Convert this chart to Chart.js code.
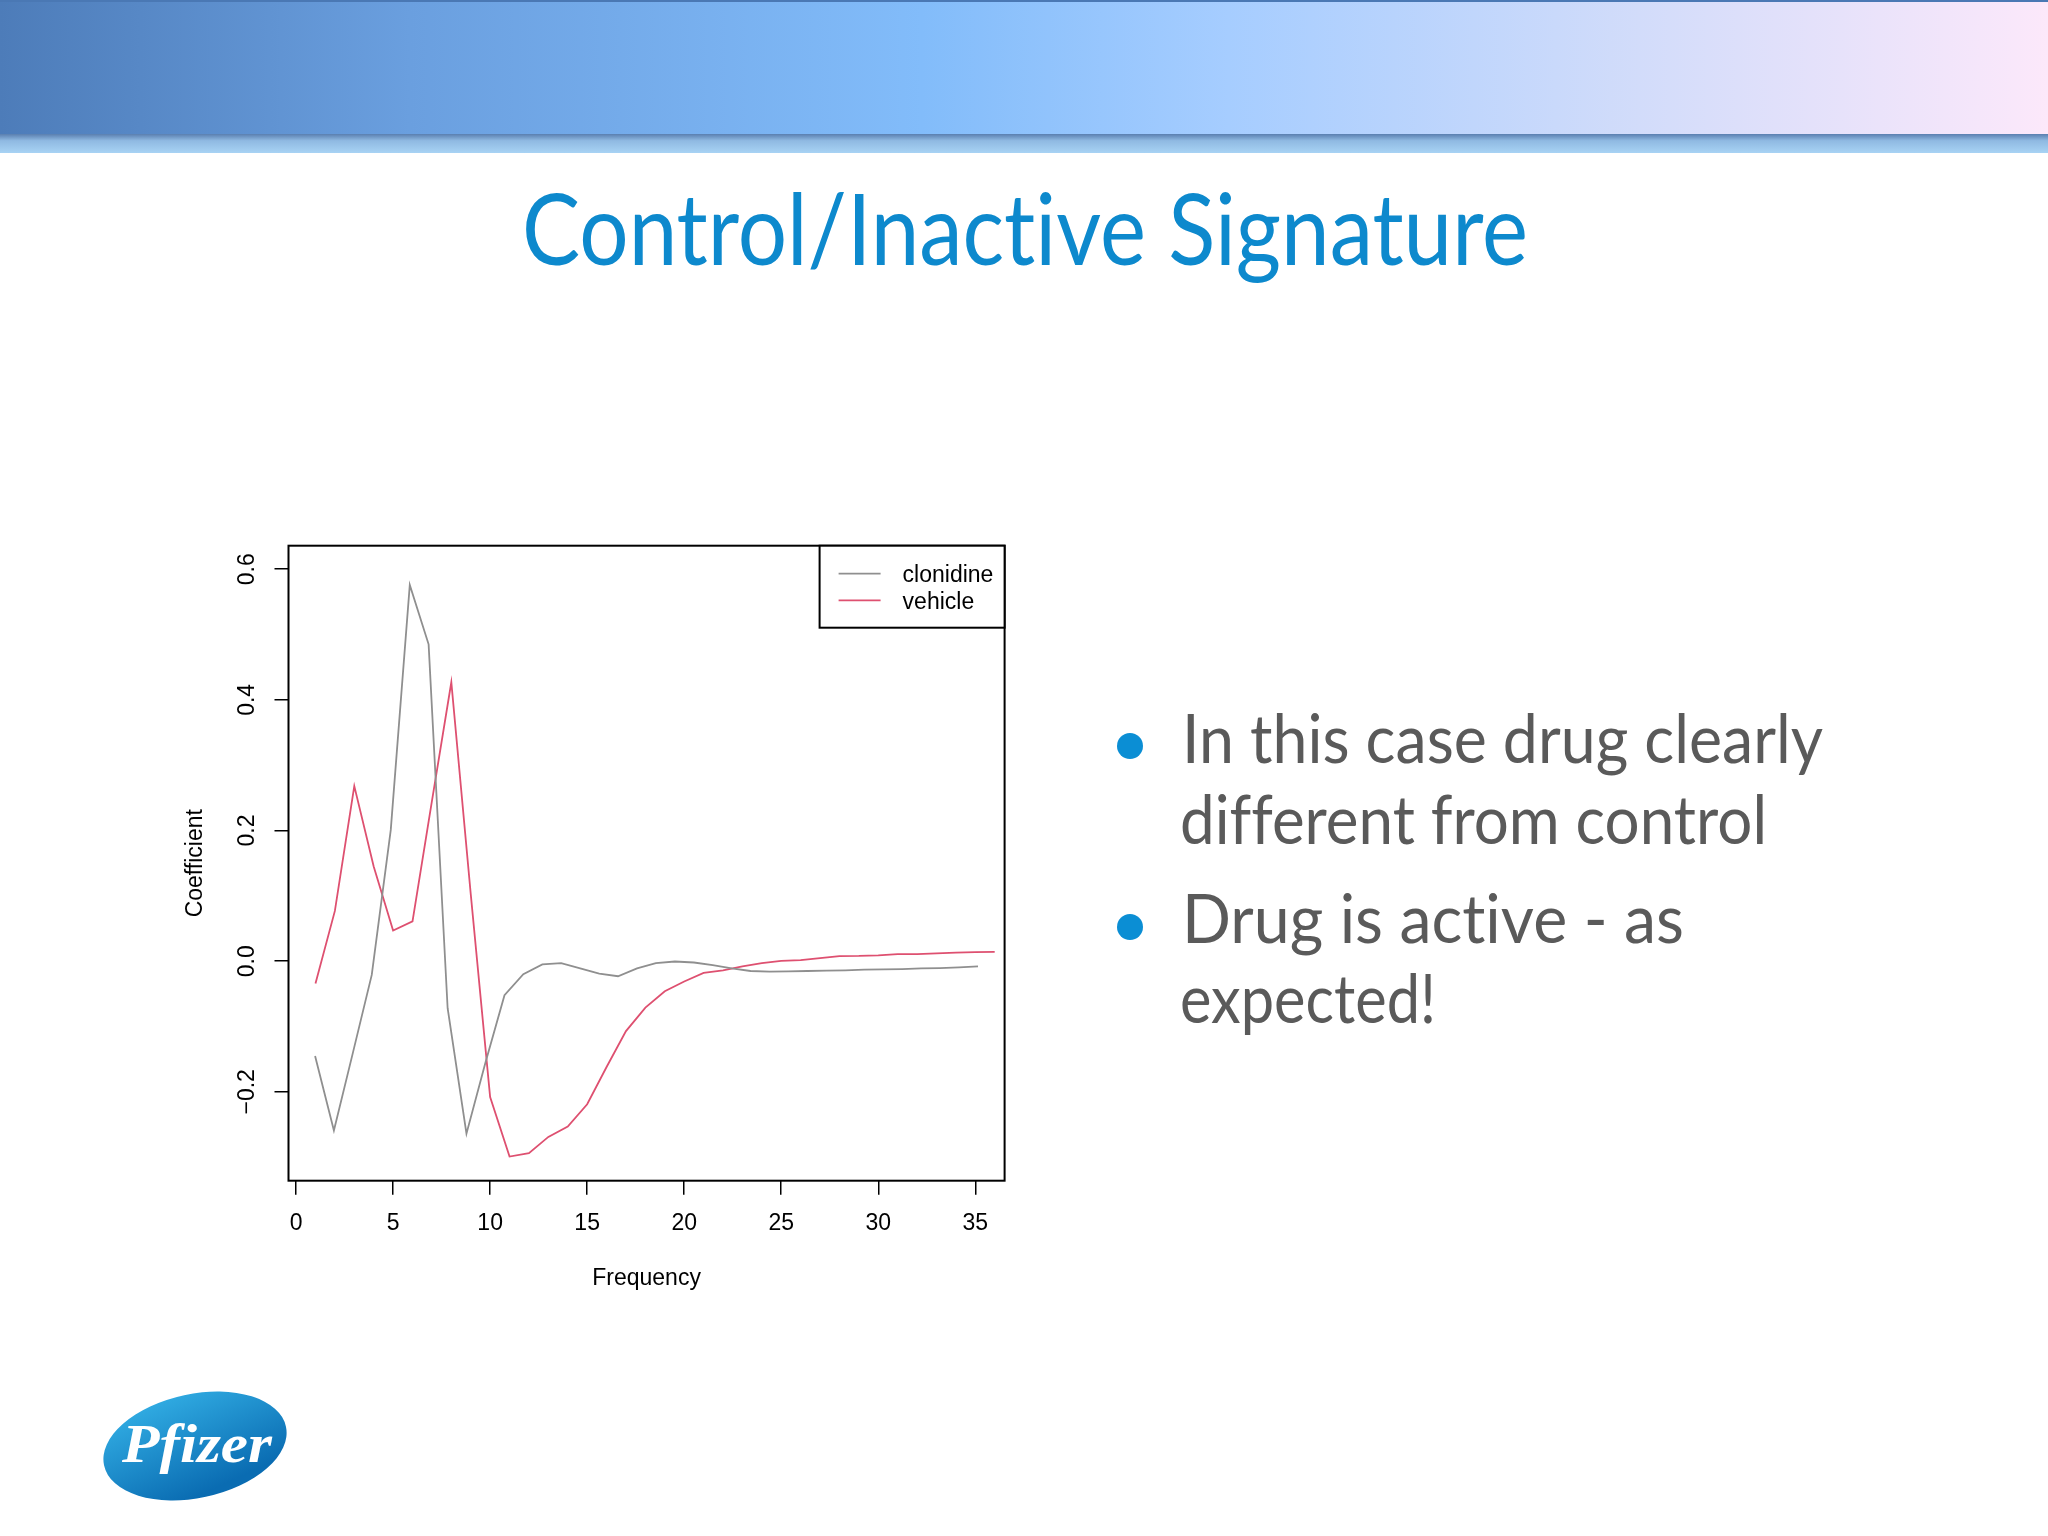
<!DOCTYPE html>
<html>

<head>
    <title>Control/Inactive Signature</title>
    <script src="https://cdn.jsdelivr.net/npm/chart.js"></script>
    <style>
        body { margin: 0; width: 2048px; height: 1536px; background: #ffffff; overflow: hidden; position: relative; }
        #deco { position: absolute; left: 0; top: 0; font-variant-ligatures: none; }
        #grafica { position: absolute; left: 150px; top: 520px; }
    </style>
</head>

<body>
    <svg id="deco" width="2048" height="1536" xmlns="http://www.w3.org/2000/svg">
        <defs>
            <linearGradient id="banda" x1="0" y1="0" x2="1" y2="0">
                <stop offset="0" stop-color="#4d7cb9" />
                <stop offset="0.2" stop-color="#6a9fdf" />
                <stop offset="0.45" stop-color="#82bcfa" />
                <stop offset="0.6" stop-color="#a6cdff" />
                <stop offset="0.8" stop-color="#d2dcfa" />
                <stop offset="1" stop-color="#fce8fa" />
            </linearGradient>
            <linearGradient id="sombra" x1="0" y1="0" x2="0" y2="1">
                <stop offset="0" stop-color="#5a7fb0" />
                <stop offset="0.35" stop-color="#8fb9e2" />
                <stop offset="1" stop-color="#a8d3f4" />
            </linearGradient>
            <linearGradient id="logo" x1="0" y1="0" x2="0.4" y2="1">
                <stop offset="0" stop-color="#35b3e8" />
                <stop offset="1" stop-color="#0a6cb2" />
            </linearGradient>
        </defs>
        <rect x="0" y="0" width="2048" height="135" fill="url(#banda)" />
        <rect x="0" y="0" width="2048" height="2" fill="#4a78b4" />
        <rect x="0" y="134" width="2048" height="19" fill="url(#sombra)" />

        <text x="522" y="265" font-family="Lato" font-size="98" fill="#0d89cd"
              textLength="1006" lengthAdjust="spacingAndGlyphs">Control/Inactive Signature</text>

        <circle cx="1130" cy="746" r="13" fill="#0b8ed4" />
        <circle cx="1130" cy="927" r="13" fill="#0b8ed4" />
        <g font-family="Lato" font-size="67" fill="#5a5a5a">
            <text x="1182" y="763" textLength="641" lengthAdjust="spacingAndGlyphs">In this case drug clearly</text>
            <text x="1180" y="844" textLength="587" lengthAdjust="spacingAndGlyphs">different from control</text>
            <text x="1182" y="943" textLength="502" lengthAdjust="spacingAndGlyphs">Drug is active - as</text>
            <text x="1180" y="1023" textLength="256" lengthAdjust="spacingAndGlyphs">expected!</text>
        </g>

        <ellipse cx="195" cy="1446" rx="93" ry="52" transform="rotate(-12 195 1446)" fill="url(#logo)" />
        <text x="122" y="1462" font-family="Liberation Serif" font-weight="bold" font-style="italic" font-size="54"
              fill="#ffffff" textLength="150" lengthAdjust="spacingAndGlyphs">Pfizer</text>
    </svg>

    <canvas id="grafica" width="880" height="800"></canvas>

    <script>
        // Datos
        const frecClonidina = [0.98, 1.95, 2.93, 3.90, 4.88, 5.86, 6.83, 7.81, 8.78, 9.76, 10.74, 11.71,
            12.69, 13.66, 14.64, 15.62, 16.59, 17.57, 18.54, 19.52, 20.50, 21.47, 22.45, 23.42,
            24.40, 25.38, 26.35, 27.33, 28.30, 29.28, 30.26, 31.23, 32.21, 33.18, 34.16, 35.14];
        const coefClonidina = [-0.145, -0.259, -0.140, -0.021, 0.201, 0.576, 0.485, -0.072, -0.264, -0.155, -0.052, -0.020,
            -0.005, -0.003, -0.011, -0.019, -0.023, -0.011, -0.003, -0.0005, -0.002, -0.006, -0.011, -0.015,
            -0.016, -0.0157, -0.015, -0.0145, -0.014, -0.013, -0.0125, -0.012, -0.011, -0.0105, -0.0095, -0.008];

        const frecVehiculo = [1, 2, 3, 4, 5, 6, 7, 8, 9, 10, 11, 12, 13, 14, 15, 16, 17, 18,
            19, 20, 21, 22, 23, 24, 25, 26, 27, 28, 29, 30, 31, 32, 33, 34, 35, 36];
        const coefVehiculo = [-0.034, 0.077, 0.268, 0.145, 0.047, 0.061, 0.245, 0.427, 0.103, -0.208, -0.299, -0.294,
            -0.269, -0.253, -0.219, -0.162, -0.107, -0.071, -0.046, -0.031, -0.018, -0.014, -0.008, -0.003,
            0.0005, 0.0015, 0.0046, 0.0077, 0.008, 0.009, 0.0107, 0.0107, 0.012, 0.013, 0.0138, 0.0143];

        const series = ['clonidine', 'vehicle'];
        const colores = ['#8f8f8f', '#de5070'];
        const fuente = 'Liberation Sans, Arial, Helvetica, sans-serif';

        function puntos(xs, ys) {
            return xs.map((x, i) => ({ x: x, y: ys[i] }));
        }

        // Caja del grafico y leyenda al estilo R
        const cajaR = {
            id: 'cajaR',
            afterDatasetsDraw(chart) {
                const ctx = chart.ctx;
                const a = chart.chartArea;
                ctx.save();
                ctx.strokeStyle = '#000';
                ctx.lineWidth = 2;
                ctx.strokeRect(a.left, a.top, a.right - a.left, a.bottom - a.top);

                // leyenda
                const ancho = 185, alto = 82;
                ctx.fillStyle = '#fff';
                ctx.fillRect(a.right - ancho, a.top, ancho, alto);
                ctx.strokeRect(a.right - ancho, a.top, ancho, alto);
                ctx.font = '23px ' + fuente;
                ctx.textBaseline = 'middle';
                chart.data.datasets.forEach((ds, i) => {
                    const y = a.top + 28 + i * 26.6;
                    ctx.strokeStyle = ds.borderColor;
                    ctx.lineWidth = 1.8;
                    ctx.beginPath();
                    ctx.moveTo(a.right - 166, y);
                    ctx.lineTo(a.right - 124, y);
                    ctx.stroke();
                    ctx.fillStyle = '#000';
                    ctx.fillText(ds.label, a.right - 102, y + 2);
                });
                ctx.restore();
            }
        };

        const ctx = document.getElementById('grafica').getContext('2d');
        const chart = new Chart(ctx, {
            type: 'line',
            data: {
                datasets: [{
                    label: series[0],
                    data: puntos(frecClonidina, coefClonidina),
                    borderColor: colores[0],
                    borderWidth: 1.8,
                    pointRadius: 0,
                    tension: 0,
                    fill: false
                }, {
                    label: series[1],
                    data: puntos(frecVehiculo, coefVehiculo),
                    borderColor: colores[1],
                    borderWidth: 1.8,
                    pointRadius: 0,
                    tension: 0,
                    fill: false
                }]
            },
            options: {
                responsive: false,
                animation: false,
                events: [],
                layout: { padding: { left: 0, top: 25.7, right: 25.4, bottom: 0 } },
                plugins: {
                    legend: { display: false },
                    tooltip: { enabled: false }
                },
                scales: {
                    x: {
                        type: 'linear',
                        min: -0.39,
                        max: 36.51,
                        afterFit: s => { s.height = 139.3; },
                        border: { display: false },
                        grid: { drawOnChartArea: false, tickLength: 14, color: '#000', lineWidth: 1.5 },
                        ticks: {
                            stepSize: 5, includeBounds: false, autoSkip: false, maxRotation: 0,
                            padding: 15, color: '#000', font: { family: fuente, size: 23 }
                        },
                        title: {
                            display: true, text: 'Frequency', color: '#000',
                            font: { family: fuente, size: 23 }, padding: { top: 0, bottom: 28 }
                        }
                    },
                    y: {
                        min: -0.336,
                        max: 0.636,
                        afterFit: s => { s.width = 138.5; },
                        border: { display: false },
                        grid: { drawOnChartArea: false, tickLength: 14, color: '#000', lineWidth: 1.5 },
                        ticks: {
                            stepSize: 0.2, includeBounds: false, autoSkip: false,
                            minRotation: 90, maxRotation: 90, crossAlign: 'center',
                            padding: 4, color: '#000', font: { family: fuente, size: 23 },
                            callback: v => v.toFixed(1).replace('-', '\u2212')
                        },
                        title: {
                            display: true, text: 'Coefficient', color: '#000',
                            font: { family: fuente, size: 23 }, padding: { top: 32, bottom: 0 }
                        }
                    }
                }
            },
            plugins: [cajaR]
        });
    </script>
</body>

</html>
